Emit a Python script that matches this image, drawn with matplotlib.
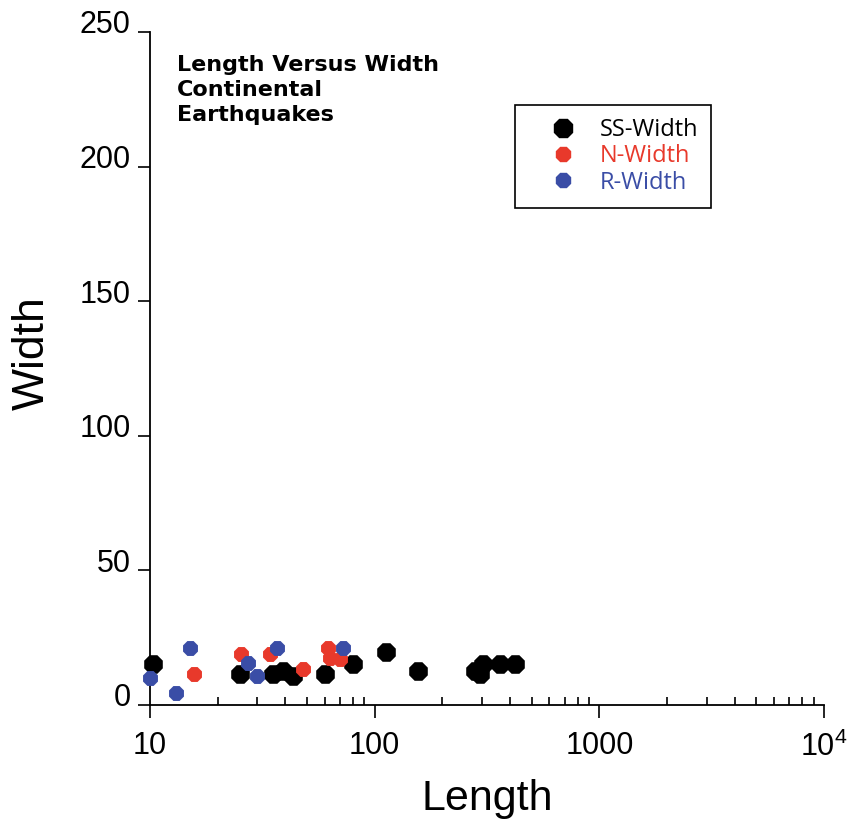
import matplotlib.pyplot as plt
import matplotlib.transforms as mtransforms
from matplotlib.lines import Line2D
from matplotlib.ticker import FixedLocator, FixedFormatter, LogLocator, NullFormatter

plt.rcParams['font.family'] = ['Liberation Sans', 'DejaVu Sans']
plt.rcParams['mathtext.fontset'] = 'custom'
plt.rcParams['mathtext.rm'] = 'Liberation Sans'

# strike-slip, normal and reverse events (length km, width km)
ss_length = [10.35, 25.2, 35.4, 39.2, 43.4, 60.1, 80.4, 112, 156, 279, 294, 304, 361, 421]
ss_width = [15.1, 11.4, 11.4, 12.6, 10.8, 11.4, 15.1, 19.8, 12.6, 12.6, 11.4, 15.1, 15.1, 15.1]

n_length = [15.7, 25.3, 34.2, 47.8, 62.2, 63.2, 70.2]
n_width = [11.4, 19.1, 18.8, 13.3, 21.3, 17.6, 17.0]

r_length = [10.0, 13.1, 15.07, 27.4, 29.9, 36.9, 72.5]
r_width = [9.9, 4.3, 21.3, 15.7, 10.8, 21.3, 21.3]

x_ticks = [10, 100, 1000, 10000]
x_labels = ['10', '100', '1000', r'$10^4$']
y_ticks = [0, 50, 100, 150, 200, 250]

red = '#E8392B'
blue = '#3A4DA6'

fig = plt.figure(figsize=(8.58, 8.27), dpi=100)
ax = fig.add_axes([150 / 858, 1 - 705 / 827, 674 / 858, 673 / 827])

ax.scatter(ss_length, ss_width, s=210, marker='8', color='black', lw=0, zorder=3, clip_on=False)
ax.scatter(n_length, n_width, s=135, marker='8', color=red, lw=0, zorder=4, clip_on=False)
ax.scatter(r_length, r_width, s=135, marker='8', color=blue, lw=0, zorder=5, clip_on=False)

ax.set_xscale('log')
ax.set_xlim(10, 10000)
ax.set_ylim(0, 250)

ax.xaxis.set_major_locator(FixedLocator(x_ticks))
ax.xaxis.set_major_formatter(FixedFormatter(x_labels))
ax.xaxis.set_minor_locator(LogLocator(base=10, subs=range(2, 10)))
ax.xaxis.set_minor_formatter(NullFormatter())
ax.set_yticks(y_ticks)

ax.tick_params(axis='x', which='major', direction='out', length=9, width=1.2, labelsize=22, pad=10)
ax.tick_params(axis='x', which='minor', direction='in', length=6, width=1.2)
ax.tick_params(axis='y', which='major', direction='out', length=9, width=1.2, labelsize=22, pad=5)

# y labels sit with their baseline near the tick
shift = mtransforms.ScaledTranslation(0, -1 / 72, fig.dpi_scale_trans)
for lab in ax.get_yticklabels():
    lab.set_va('baseline')
    lab.set_transform(lab.get_transform() + shift)

for side in ['top', 'right']:
    ax.spines[side].set_visible(False)
for side in ['left', 'bottom']:
    ax.spines[side].set_linewidth(1.3)

ax.set_xlabel('Length', fontsize=31, labelpad=12)
ax.set_ylabel('Width', fontsize=32)
ax.yaxis.set_label_coords(-0.144, 0.523)

fig.text(177 / 858, 1 - 55 / 827, 'Length Versus Width\nContinental\nEarthquakes',
         fontsize=16, fontweight='bold', family='DejaVu Sans', va='top', linespacing=1.3)

handles = [
    Line2D([], [], marker='8', ls='', color='black', markersize=14.5),
    Line2D([], [], marker='8', ls='', color=red, markersize=11.5),
    Line2D([], [], marker='8', ls='', color=blue, markersize=11.5),
]
leg = ax.legend(handles, ['SS-Width', 'N-Width', 'R-Width'], loc='upper left',
                bbox_to_anchor=(515 / 858, 1 - 105 / 827), bbox_transform=fig.transFigure,
                fancybox=False, edgecolor='black', framealpha=1,
                prop={'family': 'Open Sans', 'size': 17}, handlelength=2.95,
                handletextpad=0.1, borderpad=0.55, labelspacing=0.1, borderaxespad=0)
leg.get_frame().set_linewidth(1.2)
for txt, c in zip(leg.get_texts(), ['black', red, blue]):
    txt.set_color(c)

plt.savefig('out.png', dpi=100)
